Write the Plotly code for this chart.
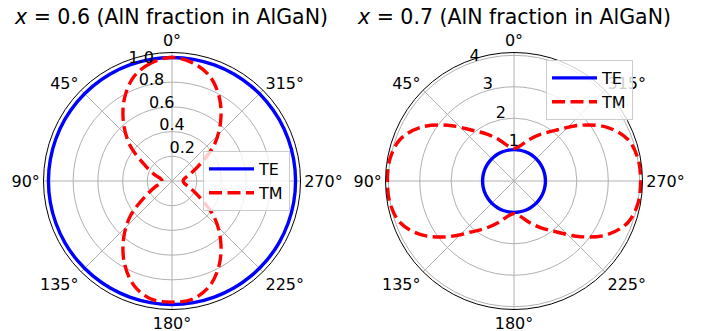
import plotly.graph_objects as go

# Angles (degrees)
theta = [0, 10, 20, 30, 40, 50, 60, 70, 80, 90, 100, 110, 120, 130, 140, 150, 160, 170, 180,
         190, 200, 210, 220, 230, 240, 250, 260, 270, 280, 290, 300, 310, 320, 330, 340, 350, 360]

# x = 0.6
te_06 = [1.0] * 37
tm_06 = [1.00, 0.97, 0.90, 0.77, 0.61, 0.44, 0.25, 0.15, 0.09, 0.08, 0.09, 0.15, 0.25, 0.44, 0.61, 0.77, 0.90, 0.97, 0.98,
         0.97, 0.90, 0.77, 0.61, 0.44, 0.25, 0.15, 0.10, 0.09, 0.10, 0.15, 0.25, 0.44, 0.61, 0.77, 0.90, 0.97, 1.00]

# x = 0.7
te_07 = [1.0] * 37
tm_07 = [1.04, 1.14, 1.40, 1.72, 2.12, 2.76, 3.42, 3.86, 4.01, 4.03, 4.01, 3.86, 3.42, 2.76, 2.12, 1.72, 1.40, 1.14, 1.04,
         1.14, 1.40, 1.72, 2.12, 2.76, 3.42, 3.86, 4.01, 4.03, 4.01, 3.86, 3.42, 2.76, 2.12, 1.72, 1.40, 1.14, 1.04]

ang_vals = [0, 45, 90, 135, 180, 225, 270, 315]
ang_text = ["0°", "45°", "90°", "135°", "180°", "225°", "270°", "315°"]
r_ticks_06 = [0.2, 0.4, 0.6, 0.8, 1.0]
r_text_06 = ["0.2", "0.4", "0.6", "0.8", "1.0"]
r_ticks_07 = [1, 2, 3, 4]
r_text_07 = ["1", "2", "3", "4"]

FONT = "DejaVu Sans"
GRID = "#b0b0b0"
DASH = "13px,5.5px"
LW = 3.4


def lifted(labels):
    # a blank second line lifts each radial label (labels are centred vertically)
    return [t + "<br>&nbsp;" for t in labels]


fig = go.Figure()
fig.add_trace(go.Scatterpolar(r=te_06, theta=theta, mode="lines", name="TE",
                              line=dict(color="#0000ff", width=LW, shape="spline"),
                              subplot="polar", legend="legend"))
fig.add_trace(go.Scatterpolar(r=tm_06, theta=theta, mode="lines", name="TM",
                              line=dict(color="#ff0000", width=LW, dash=DASH, shape="spline"),
                              subplot="polar", legend="legend"))
fig.add_trace(go.Scatterpolar(r=te_07, theta=theta, mode="lines", name="TE",
                              line=dict(color="#0000ff", width=LW, shape="spline"),
                              subplot="polar2", legend="legend2"))
fig.add_trace(go.Scatterpolar(r=tm_07, theta=theta, mode="lines", name="TM",
                              line=dict(color="#ff0000", width=LW, dash=DASH, shape="spline"),
                              subplot="polar2", legend="legend2"))

RAD_ANGLE = 114.5


def polar_layout(domx, domy, rng, rt, rtt):
    return dict(
        domain=dict(x=domx, y=domy),
        bgcolor="white",
        angularaxis=dict(rotation=90, direction="counterclockwise",
                         tickmode="array", tickvals=ang_vals, ticktext=ang_text,
                         showline=True, linecolor="black", linewidth=1,
                         showgrid=True, gridcolor=GRID, gridwidth=0.8,
                         ticks="", tickfont=dict(size=16, color="black", family=FONT)),
        radialaxis=dict(range=rng, tickmode="array", tickvals=rt, ticktext=lifted(rtt),
                        angle=RAD_ANGLE, tickangle=RAD_ANGLE, showline=False, ticks="",
                        showgrid=True, gridcolor=GRID, gridwidth=0.8,
                        tickfont=dict(size=16, color="black", family=FONT)),
    )


W, H = 701, 331
R = 128.5
lc, rc, cy = 172, 514, 181
legend_style = dict(xanchor="left", yanchor="top", bgcolor="rgba(255,255,255,0.8)",
                    bordercolor="#cccccc", borderwidth=1, itemwidth=45,
                    font=dict(size=16, family=FONT))
fig.update_layout(
    width=W, height=H,
    margin=dict(l=0, r=0, t=0, b=0),
    paper_bgcolor="white",
    font=dict(family=FONT, color="black"),
    polar=polar_layout([(lc - R) / W, (lc + R) / W],
                       [(H - cy - R) / H, (H - cy + R) / H], [0, 1.04], r_ticks_06, r_text_06),
    polar2=polar_layout([(rc - R) / W, (rc + R) / W],
                        [(H - cy - R) / H, (H - cy + R) / H], [0, 4.09], r_ticks_07, r_text_07),
    legend=dict(x=203 / W, y=1 - 151 / H, **legend_style),
    legend2=dict(x=546 / W, y=1 - 60 / H, **legend_style),
    annotations=[
        dict(text="<i>x</i> = 0.6 (AlN fraction in AlGaN)", x=171 / W, y=1 - 17 / H,
             xref="paper", yref="paper", xanchor="center", yanchor="middle",
             showarrow=False, font=dict(size=20.5, family=FONT)),
        dict(text="<i>x</i> = 0.7 (AlN fraction in AlGaN)", x=514 / W, y=1 - 17 / H,
             xref="paper", yref="paper", xanchor="center", yanchor="middle",
             showarrow=False, font=dict(size=20.5, family=FONT)),
    ],
)

fig.write_html("out.html", config={"displayModeBar": False},
               post_script="document.body.style.margin='0px';")
